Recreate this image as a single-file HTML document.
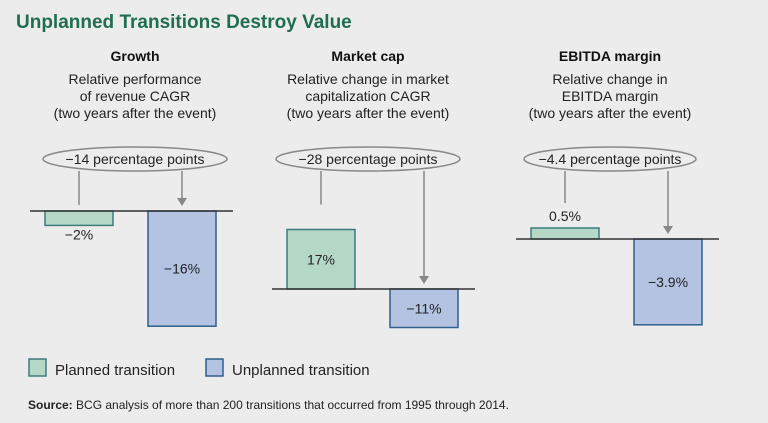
<!DOCTYPE html>
<html><head><meta charset="utf-8"><style>
body{margin:0;background:#ececec;}
svg{display:block;font-family:"Liberation Sans",sans-serif;}
</style></head><body>
<svg id="c" width="768" height="423">
<rect width="768" height="423" fill="#ececec"/>
<text x="16" y="28" font-size="19" font-weight="bold" fill="#1f6e4f">Unplanned Transitions Destroy Value</text>
<g id="plots"></g>
<g>
<rect x="29" y="359" width="17" height="17" fill="#b5d8c6" stroke="#3d7b7e" stroke-width="1.5"/>
<text x="55" y="375" font-size="15" fill="#222">Planned transition</text>
<rect x="206" y="359" width="17" height="17" fill="#b3c3e1" stroke="#2f5f8c" stroke-width="1.5"/>
<text x="232" y="375" font-size="15" fill="#222">Unplanned transition</text>
</g>
<text x="28" y="409" font-size="12" fill="#222"><tspan font-weight="bold">Source:</tspan> BCG analysis of more than 200 transitions that occurred from 1995 through 2014.</text>
</svg>
<script>
const panelTitles=["Growth","Market cap","EBITDA margin"];
const subtitles=[["Relative performance","of revenue CAGR","(two years after the event)"],["Relative change in market","capitalization CAGR","(two years after the event)"],["Relative change in","EBITDA margin","(two years after the event)"]];
const plannedValues=[-2,17,0.5];
const unplannedValues=[-16,-11,-3.9];
const plannedLabels=["−2%","17%","0.5%"];
const unplannedLabels=["−16%","−11%","−3.9%"];
const gapLabels=["−14 percentage points","−28 percentage points","−4.4 percentage points"];
const layout=[{x0:30,cx:135,base:211,scale:7.2},{x0:272,cx:368,base:289,scale:3.5},{x0:516,cx:610,base:239,scale:22}];
const NS="http://www.w3.org/2000/svg";
const g=document.getElementById('plots');
function mk(t,a,p){const e=document.createElementNS(NS,t);for(const k in a)e.setAttribute(k,a[k]);(p||g).appendChild(e);return e;}
for(let i=0;i<3;i++){
 const L=layout[i];const cx=L.cx;
 const y=v=>L.base-v*L.scale;
 let t=mk('text',{x:cx,y:61,'font-size':14,'font-weight':'bold','text-anchor':'middle',fill:'#111'});t.textContent=panelTitles[i];
 
 
 subtitles[i].forEach((s,j)=>{const st=mk('text',{x:cx,y:84+j*17,'font-size':14,'text-anchor':'middle',fill:'#222'});st.textContent=s;
 
 });
 const px=L.x0+15, ux=L.x0+118, w=68;
 const mids=[px+w/2,ux+w/2];
 const vals=[plannedValues[i],unplannedValues[i]];
 const pTop=Math.min(y(vals[0]),L.base);
 const pl=mk('line',{x1:mids[0],y1:171,x2:mids[0],y2:(vals[0]>0?pTop-25:L.base-6),stroke:'#888','stroke-width':1.5});
 
 
 const uTop=Math.min(y(vals[1]),L.base);
 const ul=mk('line',{x1:mids[1],y1:171,x2:mids[1],y2:uTop-12,stroke:'#888','stroke-width':1.5});
 
 
 const ar=mk('path',{d:`M${mids[1]-5},${uTop-13}L${mids[1]+5},${uTop-13}L${mids[1]},${uTop-5}Z`,fill:'#888'});
 
 
 const el=mk('ellipse',{cx:cx,cy:159,rx:i==2?86:92,ry:12,fill:'#ececec',stroke:'#888','stroke-width':1.5});
 
 
 const gt=mk('text',{x:cx,y:164,'font-size':14,'text-anchor':'middle',fill:'#222'});gt.textContent=gapLabels[i];
 
 
 const cols=[['#b5d8c6','#3d7b7e'],['#b3c3e1','#2f5f8c']];
 const labs=[plannedLabels[i],unplannedLabels[i]];
 [px,ux].forEach((bx,k)=>{
  const v=vals[k];const y1=Math.min(y(v),L.base),h=Math.abs(y(v)-L.base);
  const r=mk('rect',{x:bx,y:y1,width:w,height:h,fill:cols[k][0],stroke:cols[k][1],'stroke-width':1.5});
  
  
  let ly;
  if(h>30) ly=y1+h/2+5; else ly=v<0?L.base+h+14:y1-7;
  const lt=mk('text',{x:bx+w/2,y:ly,'font-size':14,'text-anchor':'middle',fill:'#222'});lt.textContent=labs[k];
  
  
 });
 const bl=mk('line',{x1:L.x0,y1:L.base,x2:L.x0+203,y2:L.base,stroke:'#333','stroke-width':1.5});
 
 
}
</script>
</body></html>
